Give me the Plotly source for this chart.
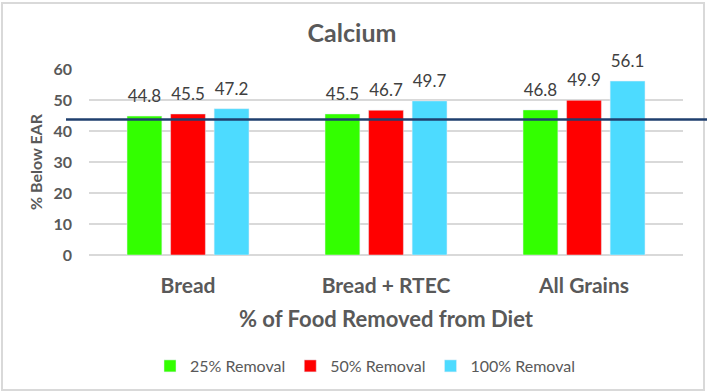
import plotly.graph_objects as go

categories = ["Bread", "Bread + RTEC", "All Grains"]
series_names = ["25% Removal", "50% Removal", "100% Removal"]
removal_25 = [44.8, 45.5, 46.8]
removal_50 = [45.5, 46.7, 49.9]
removal_100 = [47.2, 49.7, 56.1]
ear_line = 43.7
colors = ["#33FF00", "#FF0000", "#4DDBFF"]

FONT = "Lato, Carlito, Calibri, sans-serif"
GRAY = "#595959"

fig = go.Figure()
for i, (name, vals, c) in enumerate(zip(series_names, [removal_25, removal_50, removal_100], colors)):
    fig.add_trace(go.Bar(
        x=categories, y=vals, name=name, marker_color=c,
        offsetgroup=str(i), hoverinfo="x+y",
    ))
for i, vals in enumerate([removal_25, removal_50, removal_100]):
    fig.add_trace(go.Scatter(
        x=categories, y=vals, mode="markers+text", offsetgroup=str(i),
        marker=dict(size=14, opacity=0), showlegend=False, hoverinfo="skip",
        text=[f"{v:.1f}" for v in vals], textposition="top center",
        textfont=dict(size=17, color="#404040", family=FONT), cliponaxis=False,
    ))

L, R, T, B = 89, 24, 69, 137
W, H = 707, 392
pw, ph = W - L - R, H - T - B

def px_x(p):
    return (p - L) / pw

def px_y(p):
    return (H - B - p) / ph

fig.update_layout(
    width=W, height=H,
    margin=dict(l=L, r=R, t=T, b=B, autoexpand=False),
    paper_bgcolor="white", plot_bgcolor="white",
    barmode="group", bargap=0.34, bargroupgap=0.2,
    scattermode="group", scattergap=0.34,
    font=dict(family=FONT, color=GRAY),
    title=dict(text="<b>Calcium</b>", x=352 / W, xanchor="center",
               xref="container", yref="container",
               y=1 - 33 / H, yanchor="middle", automargin=False,
               font=dict(size=25, color=GRAY, family=FONT)),
    showlegend=True,
    legend=dict(orientation="h", x=px_x(150), xanchor="left",
                y=px_y(366), yanchor="middle",
                font=dict(size=16, color=GRAY, family=FONT),
                itemwidth=30, traceorder="normal"),
    xaxis=dict(showline=False, ticks="", ticklabelstandoff=16, automargin=False,
               tickfont=dict(size=21, color=GRAY, family=FONT),
               title=dict(text="<b>% of Food Removed from Diet</b>", standoff=15,
                          font=dict(size=22, color=GRAY, family=FONT))),
    yaxis=dict(range=[0, 60], dtick=10, showgrid=True, gridcolor="#D9D9D9",
               gridwidth=1.5, zeroline=True, zerolinecolor="#D9D9D9", zerolinewidth=1.5,
               automargin=False,
               tickfont=dict(size=16, color=GRAY, family=FONT),
               tickprefix="<b>", ticksuffix="</b>", ticklabelstandoff=16,
               title=dict(text="<b>% Below EAR</b>", standoff=6,
                          font=dict(size=16, color=GRAY, family=FONT))),
)
fig.update_xaxes(tickvals=categories, ticktext=[f"<b>{c}</b>" for c in categories])

# chart border
fig.add_shape(type="rect", xref="paper", yref="paper",
              x0=px_x(2), x1=px_x(704), y0=px_y(390), y1=px_y(3),
              line=dict(color="#D9D9D9", width=2), layer="below")
# EAR reference line
fig.add_shape(type="line", xref="paper", yref="y",
              x0=px_x(66), x1=px_x(707), y0=ear_line, y1=ear_line,
              line=dict(color="#1F3F6E", width=2.5))

fig.write_html("out.html", config={"displayModeBar": False},
               post_script="document.body.style.margin='0';document.body.style.overflow='hidden';")
